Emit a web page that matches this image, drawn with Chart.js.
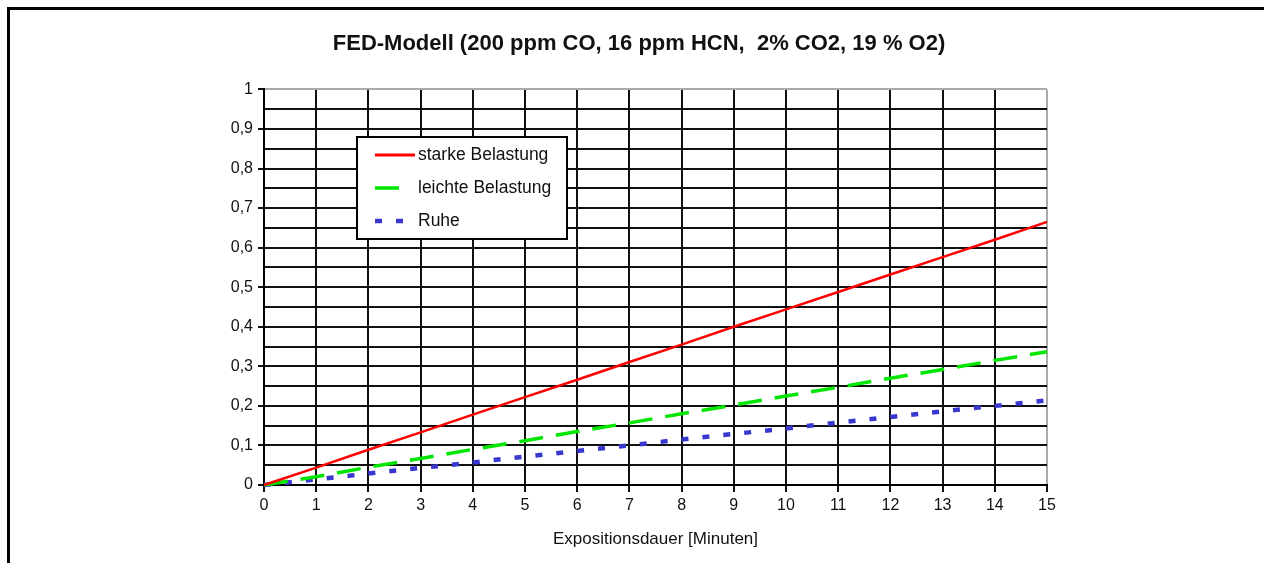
<!DOCTYPE html>
<html>
<head>
<meta charset="utf-8">
<script src="https://cdn.jsdelivr.net/npm/chart.js@4.4.1/dist/chart.umd.min.js"></script>
<style>
  html, body { margin: 0; padding: 0; background: #fff; }
  #frame { position: absolute; left: 7px; top: 7px; right: 0; bottom: 0; border-top: 3px solid #000; border-left: 3px solid #000; }
  #wrap { position: absolute; left: 0; top: 0; width: 1264px; height: 563px; }
</style>
</head>
<body>
<div id="frame"></div>
<div id="wrap"><canvas id="fed"></canvas></div>
<script>
  // values
  const minutes = [0, 1, 2, 3, 4, 5, 6, 7, 8, 9, 10, 11, 12, 13, 14, 15];
  const starke = [0, 0.044, 0.089, 0.133, 0.178, 0.222, 0.266, 0.311, 0.355, 0.40, 0.444, 0.488, 0.532, 0.576, 0.62, 0.665];
  const leichte = [0, 0.021, 0.045, 0.067, 0.09, 0.112, 0.135, 0.157, 0.18, 0.202, 0.225, 0.247, 0.27, 0.292, 0.315, 0.337];
  const ruhe = [0, 0.014, 0.029, 0.043, 0.057, 0.072, 0.086, 0.1, 0.115, 0.129, 0.143, 0.158, 0.172, 0.186, 0.2, 0.214];
  const seriesLabels = ['starke Belastung', 'leichte Belastung', 'Ruhe'];
  const yTickLabels = ['0', '0,1', '0,2', '0,3', '0,4', '0,5', '0,6', '0,7', '0,8', '0,9', '1'];

  const FONT = "'Liberation Sans', Arial, sans-serif";

  function points(values) {
    return minutes.map((m, i) => ({ x: m, y: values[i] }));
  }

  // legend drawn as a box inside the plot, like the original
  const boxLegend = {
    id: 'boxLegend',
    afterDraw(chart) {
      const ctx = chart.ctx;
      const left = 357, top = 137, width = 210, height = 102;
      ctx.save();
      ctx.fillStyle = '#fff';
      ctx.fillRect(left, top, width, height);
      ctx.strokeStyle = '#000';
      ctx.lineWidth = 2;
      ctx.strokeRect(left, top, width, height);
      ctx.font = '17.5px ' + FONT;
      ctx.textBaseline = 'middle';
      chart.data.datasets.forEach((ds, i) => {
        const y = top + 18 + i * 33;
        ctx.beginPath();
        ctx.strokeStyle = ds.borderColor;
        ctx.lineWidth = ds.borderDash ? ds.borderWidth : 3;
        ctx.setLineDash(ds.borderDash || []);
        ctx.moveTo(left + 18, y);
        ctx.lineTo(left + (ds.borderDash ? 48 : 58), y);
        ctx.stroke();
        ctx.setLineDash([]);
        ctx.fillStyle = '#111';
        ctx.fillText(ds.label, left + 61, y);
      });
      ctx.restore();
    }
  };

  new Chart(document.getElementById('fed'), {
    type: 'line',
    data: {
      datasets: [
        { label: seriesLabels[0], data: points(starke), borderColor: '#ff0000', borderWidth: 2.5 },
        { label: seriesLabels[1], data: points(leichte), borderColor: '#00e600', borderWidth: 3.5, borderDash: [24, 13] },
        { label: seriesLabels[2], data: points(ruhe), borderColor: '#3838d0', borderWidth: 4.5, borderDash: [7, 14] }
      ]
    },
    options: {
      responsive: true,
      maintainAspectRatio: false,
      animation: false,
      layout: { padding: { left: 231, right: 217, top: 0, bottom: 0 } },
      elements: { point: { radius: 0 }, line: { tension: 0 } },
      datasets: { line: { clip: false } },
      plugins: {
        legend: { display: false },
        tooltip: { enabled: false },
        title: {
          display: true,
          text: 'FED-Modell (200 ppm CO, 16 ppm HCN,  2% CO2, 19 % O2)',
          color: '#111',
          font: { family: FONT, size: 22, weight: 'bold' },
          padding: { top: 31, bottom: 32 }
        }
      },
      scales: {
        x: {
          type: 'linear',
          min: 0,
          max: 15,
          afterFit: scale => { scale.height = 78; },
          ticks: {
            stepSize: 1,
            padding: 4,
            color: '#111',
            font: { family: FONT, size: 16 },
            callback: v => String(v)
          },
          grid: {
            color: ctx => (ctx.tick && ctx.tick.value === 15 ? '#aaa' : '#111'),
            tickColor: '#111',
            lineWidth: 2,
            tickLength: 7
          },
          border: { color: '#000', width: 2 },
          title: {
            display: true,
            text: 'Expositionsdauer [Minuten]',
            color: '#111',
            font: { family: FONT, size: 17 },
            padding: { top: 0, bottom: 13 }
          }
        },
        y: {
          min: 0,
          max: 1,
          afterFit: scale => { scale.width = 33; },
          ticks: {
            stepSize: 0.05,
            padding: 5,
            color: '#111',
            font: { family: FONT, size: 16 },
            autoSkip: false,
            callback: (v, i) => (i % 2 === 0 ? yTickLabels[i / 2] : '')
          },
          grid: {
            color: ctx => (ctx.index === 20 ? '#aaa' : '#111'),
            tickColor: ctx => (ctx.index % 2 === 0 ? '#111' : 'rgba(0,0,0,0)'),
            lineWidth: 2,
            tickLength: 6
          },
          border: { color: '#000', width: 2 }
        }
      }
    },
    plugins: [boxLegend]
  });
</script>
</body>
</html>
